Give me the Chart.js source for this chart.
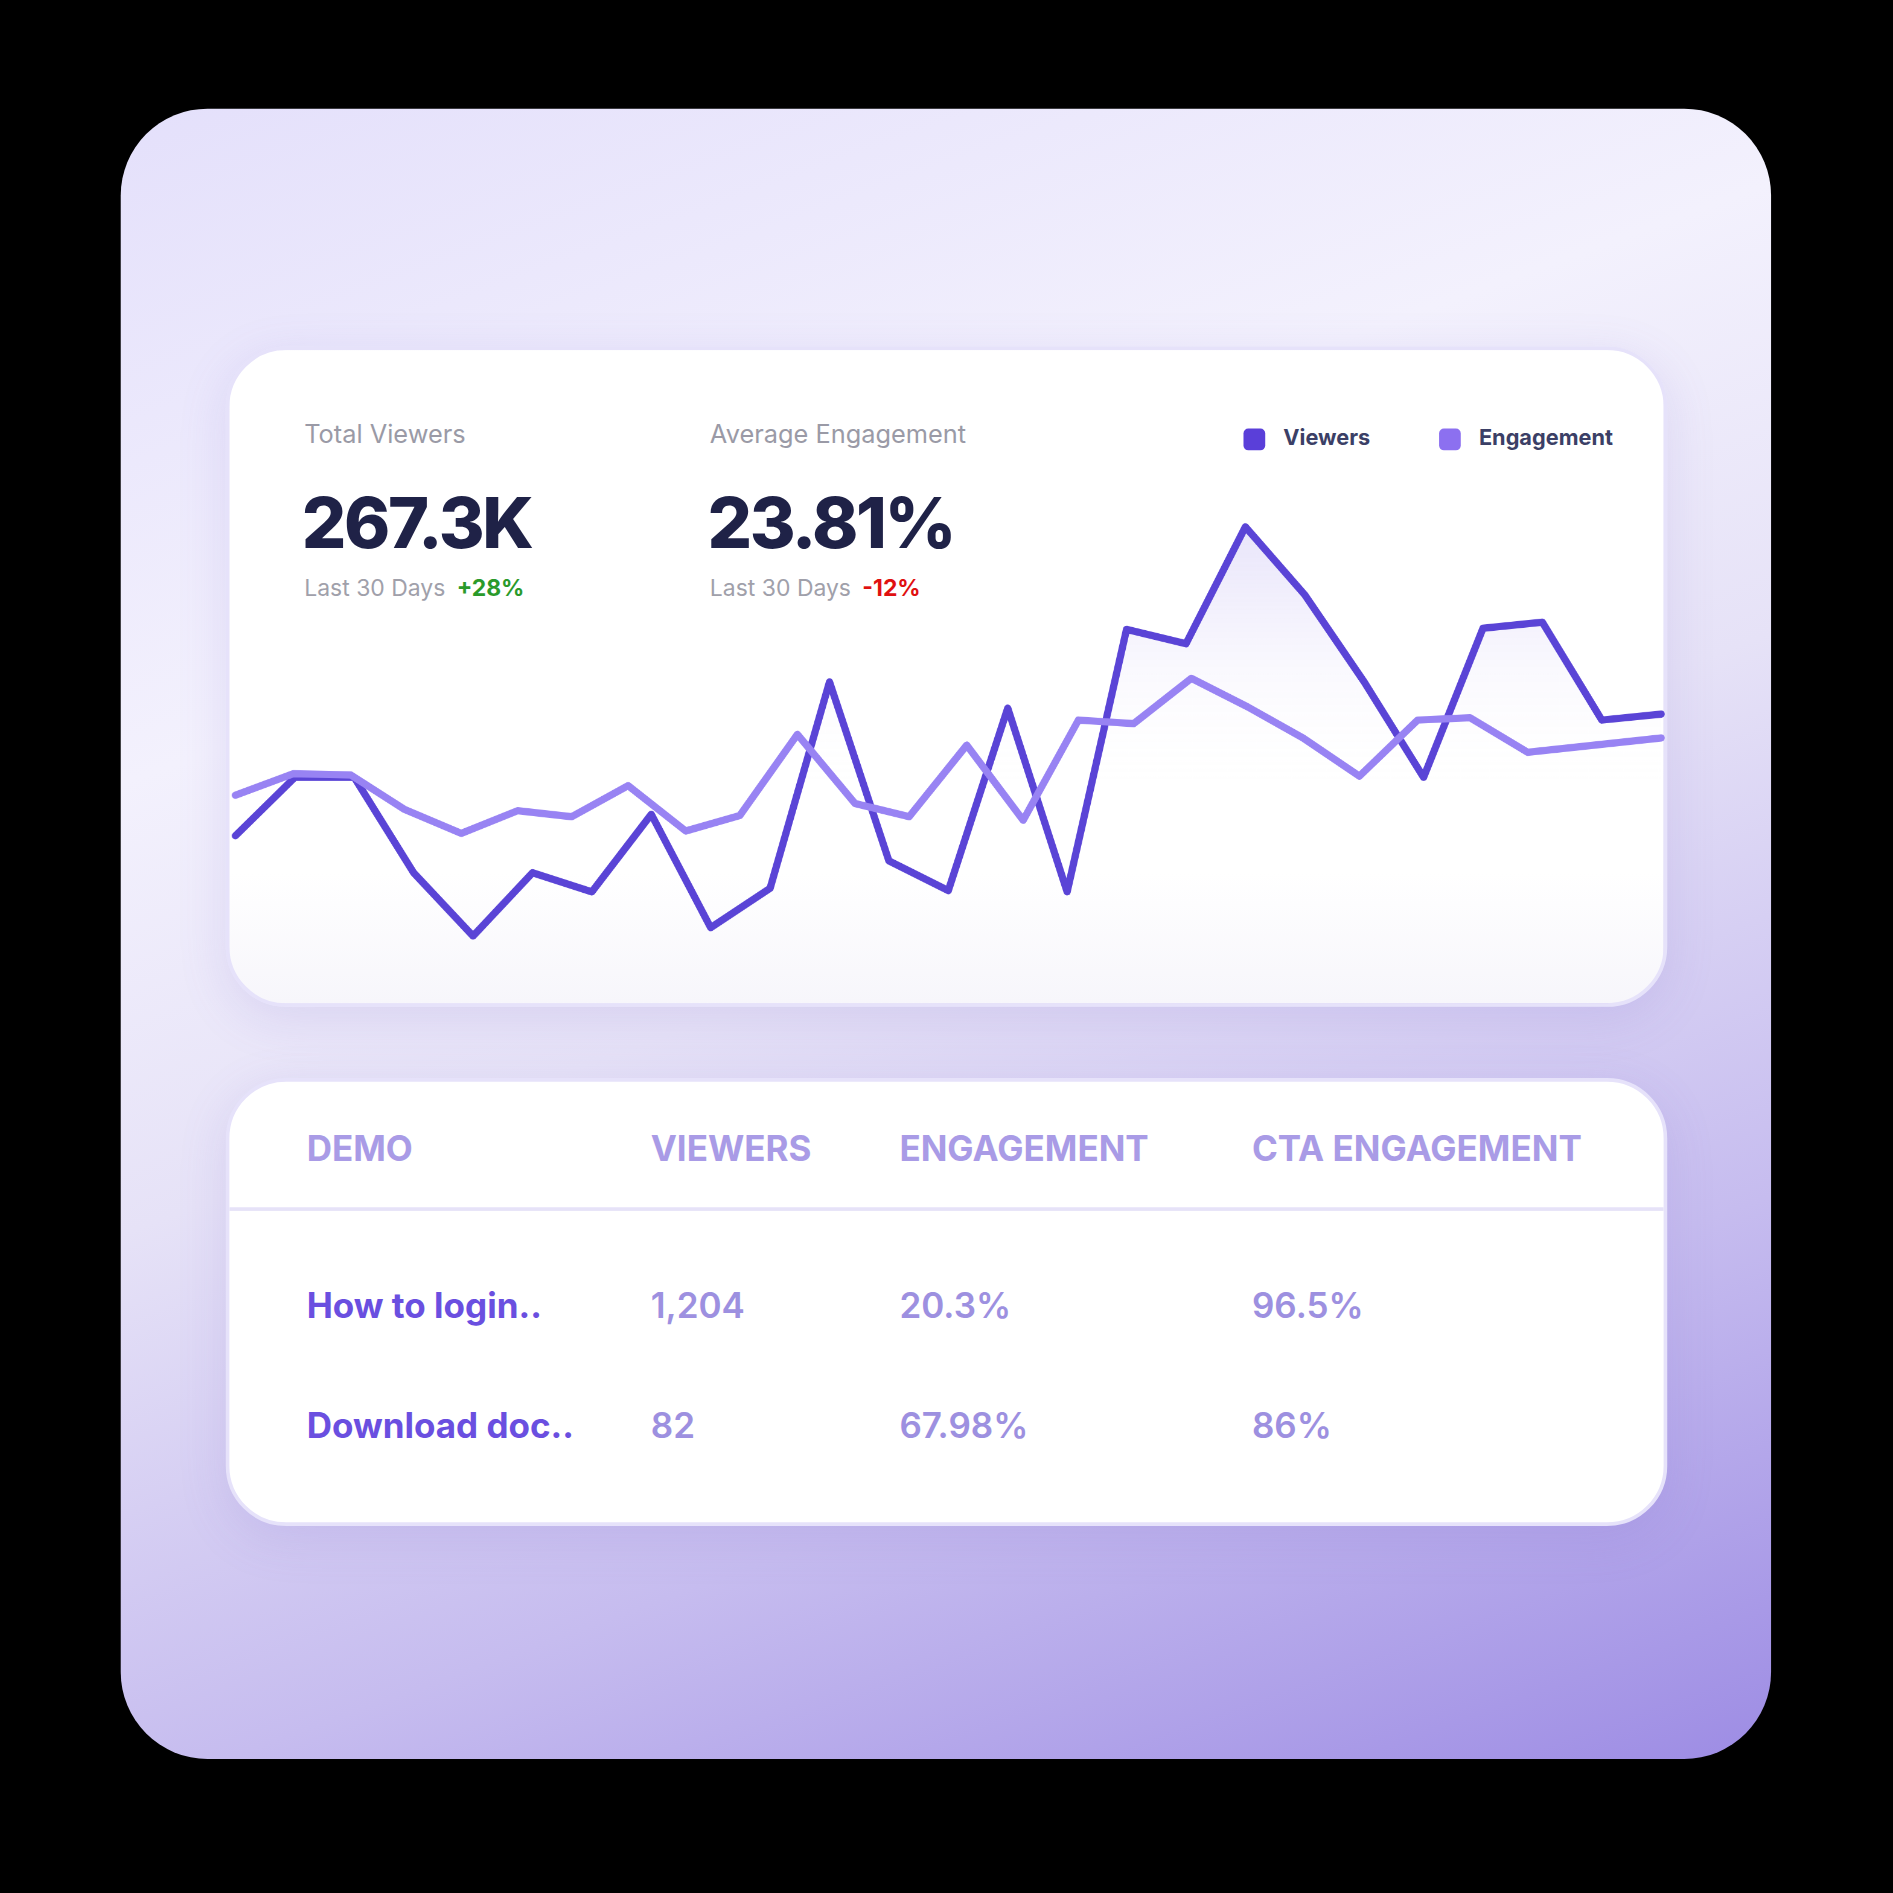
<!DOCTYPE html>
<html><head><meta charset="utf-8">
<script src="https://cdn.jsdelivr.net/npm/chart.js@4"></script>
<style>
html,body{margin:0;padding:0;background:#000;width:1893px;height:1893px;overflow:hidden;font-family:Inter,"Noto Sans",sans-serif}
#root{position:absolute;left:0;top:0;width:1568px;height:1568px;transform:scale(1.20727);transform-origin:0 0}
.outer{position:absolute;left:100px;top:90px;width:1367px;height:1367px;border-radius:72px;
background:linear-gradient(160deg,#e4e0fb 0%,#f3f1fd 30%,#e6e2f7 50%,#c6bcef 75%,#9d8ce4 100%)}
.card{position:absolute;left:187px;width:1194px;background:#fff;border-radius:50px;border:3px solid #e6e2fa;box-sizing:border-box;box-shadow:0 10px 40px rgba(120,100,200,0.15)}
.t{position:absolute;white-space:nowrap}
.lab{font-size:21px;color:#9a9aa6}
.big{font-size:58px;font-weight:800;color:#1f2247;letter-spacing:-2px}
.sub{font-size:19px;color:#a0a0aa}
.leg{font-size:18px;font-weight:700;color:#3b3f66}
.sq{position:absolute;width:18px;height:18px;border-radius:4px}
.th{font-size:29px;font-weight:700;color:#a99be6}
.nm{font-size:29px;font-weight:700;color:#6a4fe0}
.v{font-size:29px;font-weight:600;color:#9d90e0}
</style></head><body>
<div id="root">
<div class="outer"></div>
<div class="card" style="top:287px;height:547px;background:linear-gradient(#fff 80%,#f7f6fb)"></div>
<div class="t lab" style="left:252px;top:347px">Total Viewers</div>
<div class="t big" style="left:250px;top:398px">267.3K</div>
<div class="t sub" style="left:252px;top:476px">Last 30 Days <b style="color:#2a9a2a;margin-left:4px">+28%</b></div>
<div class="t lab" style="left:588px;top:347px">Average Engagement</div>
<div class="t big" style="left:586px;top:398px">23.81%</div>
<div class="t sub" style="left:588px;top:476px">Last 30 Days <b style="color:#e01010;margin-left:4px">-12%</b></div>
<div class="sq" style="left:1030px;top:355px;background:#5a3fd9"></div>
<div class="t leg" style="left:1063px;top:352px">Viewers</div>
<div class="sq" style="left:1192px;top:355px;background:#8c70f0"></div>
<div class="t leg" style="left:1225px;top:352px">Engagement</div>
<div style="position:absolute;left:192px;top:300px;width:1187px;height:500px"><canvas id="c"></canvas></div>

<div class="card" style="top:893px;height:371px"></div>
<div style="position:absolute;left:190px;top:1000px;width:1188px;height:3px;background:#e6e2f8"></div>
<div class="t th" style="left:254px;top:934px">DEMO</div>
<div class="t th" style="left:539px;top:934px">VIEWERS</div>
<div class="t th" style="left:745px;top:934px">ENGAGEMENT</div>
<div class="t th" style="left:1037px;top:934px">CTA ENGAGEMENT</div>
<div class="t nm" style="left:254px;top:1064px">How to login..</div>
<div class="t v" style="left:539px;top:1064px">1,204</div>
<div class="t v" style="left:745px;top:1064px">20.3%</div>
<div class="t v" style="left:1037px;top:1064px">96.5%</div>
<div class="t nm" style="left:254px;top:1163px">Download doc..</div>
<div class="t v" style="left:539px;top:1163px">82</div>
<div class="t v" style="left:745px;top:1163px">67.98%</div>
<div class="t v" style="left:1037px;top:1163px">86%</div>
</div>
<script>
const viewersX=[0,1,2,3,4,5,6,7,8,9,10,11,12,13,14,15,16,17,18,19,20,21,22,23,24];
const viewersY=[106,155,155,75,22,75,59,124,29,62,235,85,60,213,59,279,267,365,308,235,155,280,285,203,208];
const engageX=[0,0.97,1.94,2.85,3.8,4.75,5.66,6.61,7.58,8.49,9.46,10.43,11.34,12.31,13.26,14.19,15.12,16.09,17.04,17.97,18.92,19.9,20.78,21.75,24];
const engageY=[140,158,157,128,108,127,122,148,110,123,191,133,122,182,119,203,200,238,214,188,156,203,205,176,188];
const toPts=(xs,ys)=>xs.map((x,i)=>({x,y:ys[i]}));
const ctx=document.getElementById('c');
new Chart(ctx,{type:'line',
data:{datasets:[
{label:'Engagement',data:toPts(engageX,engageY),borderColor:'#9883f3',borderWidth:6,pointRadius:0,tension:0,fill:false,borderJoinStyle:'round',borderCapStyle:'round'},
{label:'Viewers',data:toPts(viewersX,viewersY),borderColor:'#5a44d6',borderWidth:6,pointRadius:0,tension:0,borderJoinStyle:'round',borderCapStyle:'round',
 fill:'origin',backgroundColor:(c)=>{const a=c.chart.chartArea;if(!a)return 'rgba(0,0,0,0)';const g=c.chart.ctx.createLinearGradient(0,a.top,0,a.bottom);g.addColorStop(0,'rgba(110,90,220,0.32)');g.addColorStop(0.45,'rgba(140,120,235,0.08)');g.addColorStop(0.7,'rgba(255,255,255,0)');return g;}}
]},
options:{responsive:true,maintainAspectRatio:false,animation:false,devicePixelRatio:2,clip:false,
layout:{padding:0},
plugins:{legend:{display:false},tooltip:{enabled:false}},
scales:{x:{type:'linear',min:0,max:24,display:false},y:{min:0,max:500,display:false}}}});
</script>
</body></html>
